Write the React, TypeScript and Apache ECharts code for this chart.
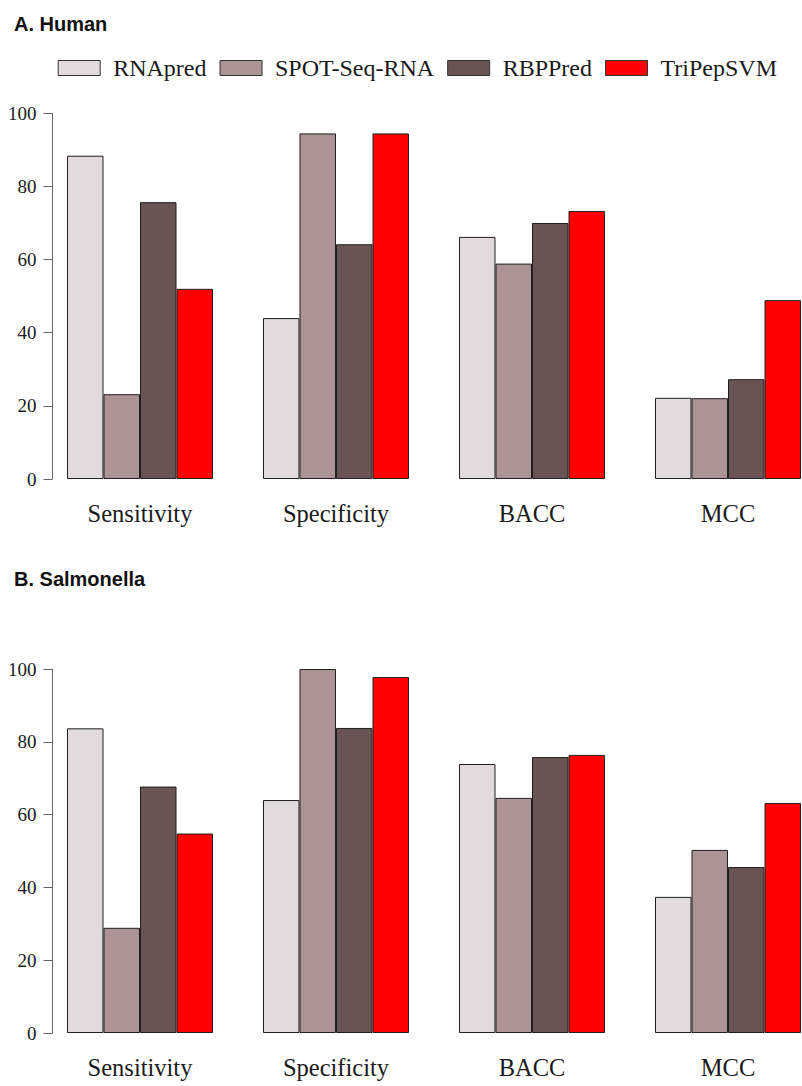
import React, { useEffect, useRef } from "react";
import * as echarts from "echarts";

const categories = ["Sensitivity", "Specificity", "BACC", "MCC"];
const methods = ["RNApred", "SPOT-Seq-RNA", "RBPPred", "TriPepSVM"];
const colors = ["#E3DADB", "#AB9493", "#6A5453", "#FF0000"];
const yTicks = [0, 20, 40, 60, 80, 100];

// Human values, per method over categories
const humanRNApred = [88.4, 44.0, 66.2, 22.2];
const humanSPOT = [23.2, 94.5, 58.9, 22.1];
const humanRBPPred = [75.7, 64.2, 70.0, 27.3];
const humanTriPep = [52.0, 94.5, 73.3, 48.9];

// Salmonella values
const salRNApred = [83.7, 64.0, 73.9, 37.4];
const salSPOT = [28.9, 100, 64.6, 50.3];
const salRBPPred = [67.7, 83.8, 75.8, 45.6];
const salTriPep = [54.8, 97.8, 76.4, 63.2];

const humanSets = [humanRNApred, humanSPOT, humanRBPPred, humanTriPep];
const salSets = [salRNApred, salSPOT, salRBPPred, salTriPep];

const SERIF = "Liberation Serif";
const SANS = "Liberation Sans";

export default function App() {
  const ref = useRef<HTMLDivElement>(null);
  useEffect(() => {
    if (!ref.current) return;
    const chart = echarts.init(ref.current, undefined, { renderer: "svg" });
    const grids = [
      { left: 42, right: 0, top: 113.3, bottom: 1086 - 479 },
      { left: 42, right: 0, top: 669, bottom: 1086 - 1033 },
    ];
    const xAxes = grids.map((_, i) => ({
      type: "category",
      gridIndex: i,
      data: categories,
      axisLine: { show: false },
      axisTick: { show: false },
      axisLabel: {
        margin: 22,
        fontFamily: SERIF,
        fontSize: 24.5,
        color: "#1a1a1a",
      },
    }));
    const yAxes = grids.map((_, i) => ({
      type: "value",
      gridIndex: i,
      min: 0,
      max: 100,
      interval: 20,
      offset: -10.5,
      splitLine: { show: false },
      axisLine: { show: true, lineStyle: { color: "#666", width: 1 } },
      axisTick: { show: true, length: 9, lineStyle: { color: "#666", width: 1 } },
      axisLabel: {
        margin: 16,
        fontFamily: SERIF,
        fontSize: 19,
        color: "#1a1a1a",
        formatter: (v: number) => (yTicks.includes(v) ? String(v) : ""),
      },
    }));
    const makeSeries = (sets: number[][], idx: number) =>
      sets.map((d, k) => ({
        type: "bar",
        name: methods[k],
        xAxisIndex: idx,
        yAxisIndex: idx,
        data: d,
        barGap: "0%",
        barCategoryGap: "25.5%",
        itemStyle: { color: colors[k], borderColor: "#1f1f1f", borderWidth: 1 },
      }));
    chart.setOption({
      animation: false,
      backgroundColor: "#ffffff",
      title: [
        {
          text: "A. Human",
          left: 14,
          top: 14,
          padding: 0,
          textStyle: { fontFamily: SANS, fontWeight: "bold", fontSize: 20, color: "#111" },
        },
        {
          text: "B. Salmonella",
          left: 14,
          top: 569,
          padding: 0,
          textStyle: { fontFamily: SANS, fontWeight: "bold", fontSize: 20, color: "#111" },
        },
      ],
      legend: {
        data: methods,
        left: 57.7,
        top: 56,
        padding: 0,
        itemWidth: 42,
        itemHeight: 15,
        itemGap: 13,
        icon: "rect",
        itemStyle: { borderColor: "#333", borderWidth: 1 },
        textStyle: { fontFamily: SERIF, fontSize: 24, color: "#1a1a1a", padding: [0, 0, 0, 8] },
      },
      grid: grids,
      xAxis: xAxes,
      yAxis: yAxes,
      series: [...makeSeries(humanSets, 0), ...makeSeries(salSets, 1)],
    });
    return () => chart.dispose();
  }, []);
  return (
    <div
      style={{
        position: "absolute",
        left: 0,
        top: 0,
        width: 802,
        height: 1086,
        overflow: "hidden",
        background: "#fff",
      }}
    >
      <div ref={ref} style={{ width: 826, height: 1086 }} />
    </div>
  );
}
